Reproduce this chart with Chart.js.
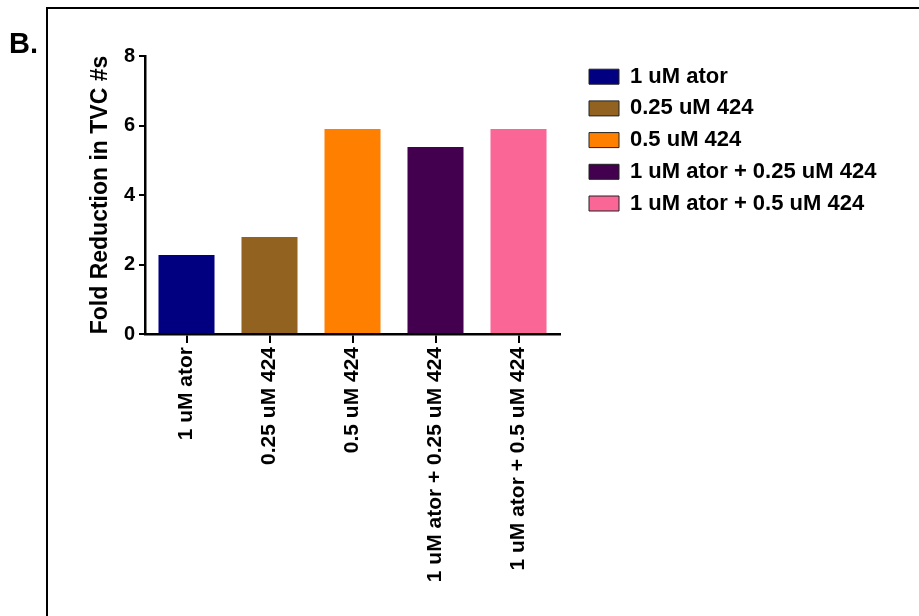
<!DOCTYPE html>
<html><head><meta charset="utf-8">
<script src="https://cdn.jsdelivr.net/npm/chart.js@4/dist/chart.umd.min.js"></script>
<style>html,body{margin:0;padding:0;background:#fff;}canvas{display:block;}</style>
</head><body>
<canvas id="c" width="919" height="616"></canvas>
<script>
const categories = ['1 uM ator', '0.25 uM 424', '0.5 uM 424', '1 uM ator + 0.25 uM 424', '1 uM ator + 0.5 uM 424'];
const foldReduction = [2.27, 2.79, 5.9, 5.38, 5.9];
const barColors = ['#000080', '#916220', '#FF8000', '#43004F', '#FA6696'];
const yTicks = [0, 2, 4, 6, 8];
const panelLabel = 'B.';
const yTitle = 'Fold Reduction in TVC #s';

const FONT = "'Liberation Sans', Arial, sans-serif";

const framePlugin = {
  id: 'frame',
  afterLayout(chart) {
    // give the legend its full width, starting a little right of the plot
    const lg = chart.legend;
    if (lg) {
      lg.left = chart.chartArea.right + 19.3;
      lg.right = chart.width;
      lg.width = lg.right - lg.left;
    }
  },
  beforeDraw(chart) {
    const ctx = chart.ctx;
    ctx.save();
    ctx.fillStyle = '#fff';
    ctx.fillRect(0, 0, chart.width, chart.height);
    ctx.strokeStyle = '#000';
    ctx.lineWidth = 2;
    ctx.beginPath();
    ctx.moveTo(47, chart.height);
    ctx.lineTo(47, 8);
    ctx.lineTo(chart.width, 8);
    ctx.stroke();
    ctx.fillStyle = '#000';
    ctx.font = "bold 29px " + FONT;
    ctx.textBaseline = 'alphabetic';
    ctx.fillText(panelLabel, 9, 53);
    ctx.restore();
  }
};

new Chart(document.getElementById('c'), {
  type: 'bar',
  data: {
    labels: categories,
    datasets: [{
      data: foldReduction,
      backgroundColor: barColors,
      borderWidth: 0,
      categoryPercentage: 1,
      barPercentage: 0.675
    }]
  },
  options: {
    responsive: false,
    animation: false,
    events: [],
    layout: { padding: { left: 87, top: 56, right: 0, bottom: 0 } },
    plugins: {
      tooltip: { enabled: false },
      legend: {
        position: 'right',
        align: 'start',
        maxWidth: 100,
        onClick: null,
        labels: {
          boxWidth: 30,
          boxHeight: 15,
          padding: 9.7,
          color: '#000',
          font: { family: FONT, size: 22, weight: 'bold' },
          generateLabels: () => categories.map((c, i) => ({
            text: c, fillStyle: barColors[i], strokeStyle: '#222', lineWidth: 1,
            hidden: false, index: i, datasetIndex: 0, fontColor: '#000'
          }))
        }
      }
    },
    scales: {
      x: {
        grid: { offset: false, drawOnChartArea: false, tickLength: 9, color: '#000', lineWidth: 2 },
        border: { display: true, color: '#000', width: 2.5 },
        ticks: { minRotation: 90, maxRotation: 90, padding: 4, color: '#000', autoSkip: false,
                 font: { family: FONT, size: 21, weight: 'bold' } },
        afterFit: s => { s.height = 282; }
      },
      y: {
        min: 0, max: 8,
        afterBuildTicks: s => { s.ticks = yTicks.map(v => ({ value: v })); },
        grid: { drawOnChartArea: false, tickLength: 6, color: '#000', lineWidth: 2 },
        border: { display: true, color: '#000', width: 2.5 },
        ticks: { padding: 4, color: '#000', font: { family: FONT, size: 20, weight: 'bold' } },
        title: { display: true, text: yTitle, color: '#000', padding: 0,
                 font: { family: FONT, size: 23, weight: 'bold' } },
        afterFit: s => { s.width = 58; }
      },
      gap: {
        type: 'linear', position: 'right', display: true,
        grid: { display: false }, border: { display: false }, ticks: { display: false },
        afterFit: s => { s.width = 259; }
      }
    }
  },
  plugins: [framePlugin]
});
</script>
</body></html>
